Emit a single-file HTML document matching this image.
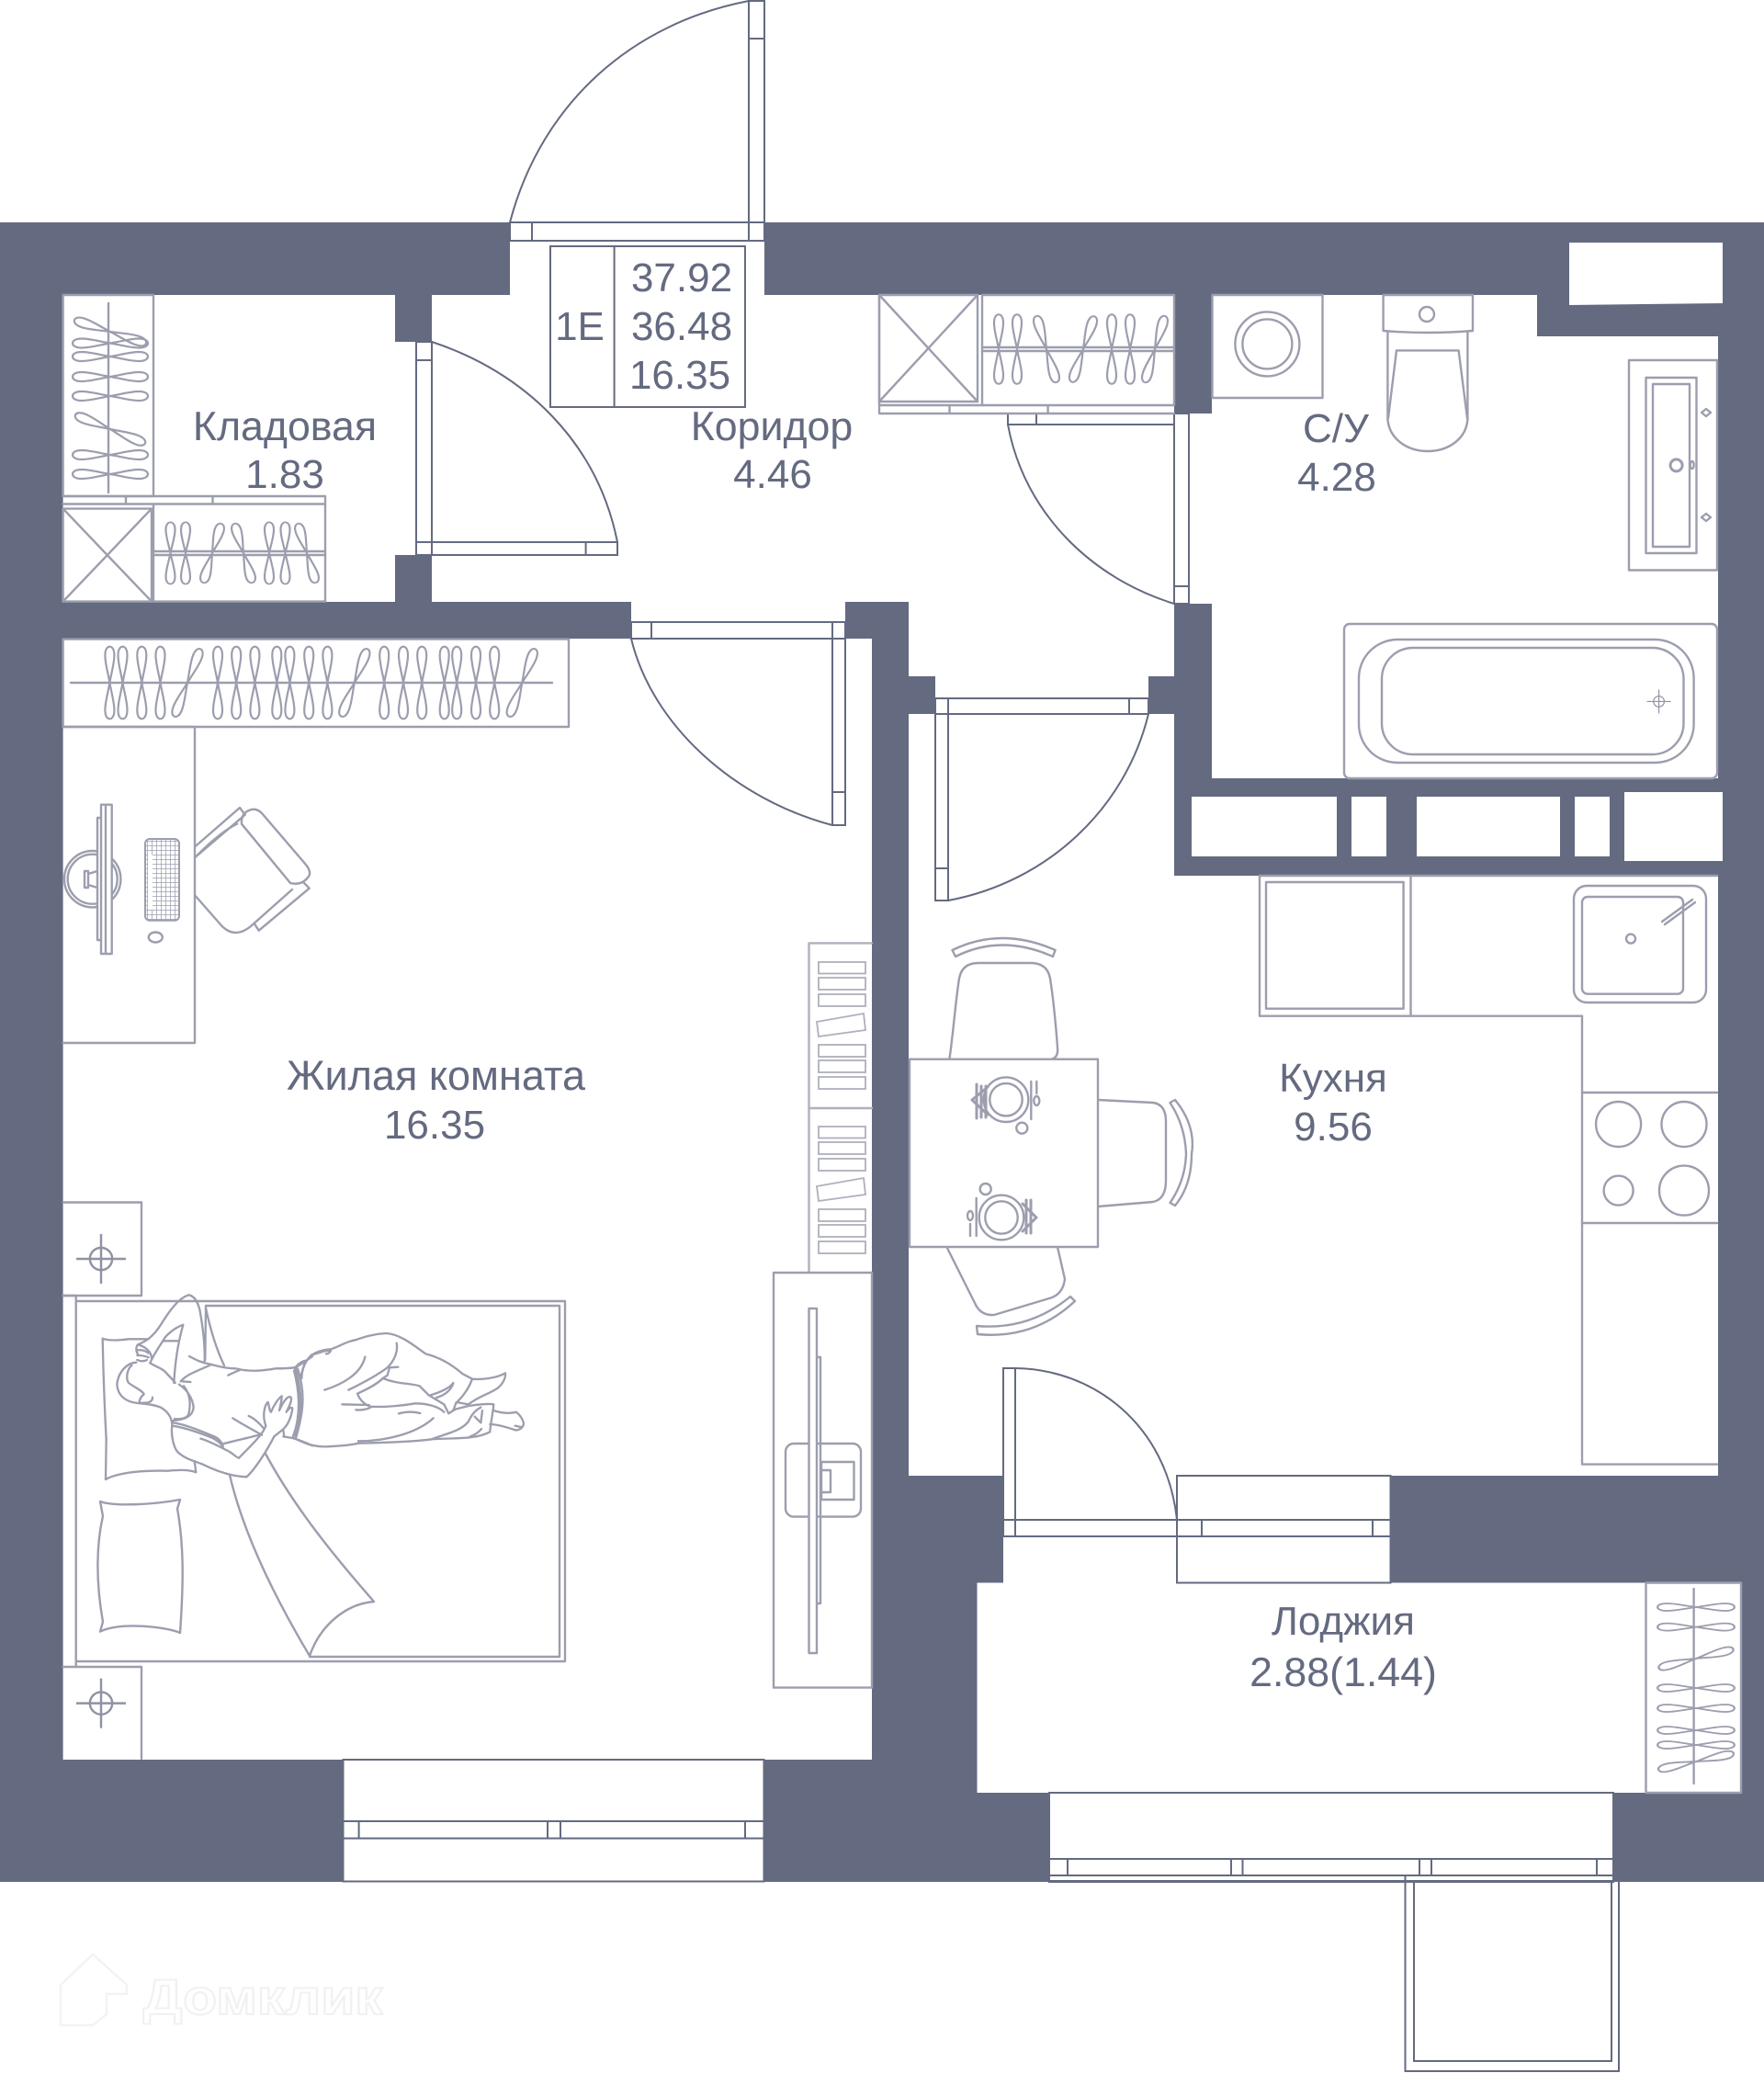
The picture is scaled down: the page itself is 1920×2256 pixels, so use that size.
<!DOCTYPE html>
<html><head><meta charset="utf-8">
<style>
html,body{margin:0;padding:0;background:#fff}
svg{display:block}
text{font-family:"Liberation Sans",sans-serif;fill:#646a80;font-size:44px;text-anchor:middle}
.n{font-size:44.7px}
.f{fill:none;stroke:#9c9eae;stroke-width:2.4;stroke-linejoin:round;stroke-linecap:round}
.w{fill:#fff;stroke:#9c9eae;stroke-width:2.4;stroke-linejoin:round}
.d{fill:none;stroke:#646a80;stroke-width:2}
.dw{fill:#fff;stroke:#646a80;stroke-width:2}
.p{fill:none;stroke:#9c9eae;stroke-width:7;stroke-linejoin:round;stroke-linecap:round}
</style></head><body>
<svg xmlns="http://www.w3.org/2000/svg" width="1920" height="2256" viewBox="0 0 1920 2256">
<defs>
<path id="h" d="M0,0C-12,-2 -22,-5 -31,-5C-39,-5 -41,-2 -41,0C-41,2 -39,5 -31,5C-22,5 -12,2 0,0C12,-2 22,-5 31,-5C39,-5 41,-2 41,0C41,2 39,5 31,5C22,5 12,2 0,0Z" fill="none" stroke="#9c9eae" stroke-width="2.2"/>
<pattern id="kb" width="5" height="5" patternUnits="userSpaceOnUse"><path d="M0,0H5M0,0V5" stroke="#9c9eae" stroke-width="1.5" fill="none"/></pattern>
<g id="bk" style="stroke:#aeb0bc;stroke-width:1.8;fill:none">
<rect x="891" y="1047" width="51" height="12.5"/><rect x="891" y="1064" width="51" height="13"/><rect x="891" y="1082" width="51" height="13"/>
<path d="M889,1112L940,1103L942,1121L891,1128Z"/>
<rect x="891" y="1137" width="51" height="13"/><rect x="891" y="1154" width="51" height="13"/><rect x="891" y="1172" width="51" height="13"/>
</g>
<g id="cross" style="stroke:#8f92a3;stroke-width:1.8;fill:none"><circle cx="0" cy="0" r="9"/><path d="M-20,0H20M0,-20V20"/></g>
</defs>

<!-- walls -->
<rect x="0" y="242" width="1920" height="1806" fill="#646a80"/>

<!-- rooms -->
<g fill="#fff">
<rect x="68.6" y="321" width="361.4" height="334"/>
<rect x="430" y="372" width="40" height="232"/>
<rect x="470" y="321" width="808" height="334"/>
<rect x="555" y="242" width="277" height="79"/>
<rect x="687" y="655" width="233" height="40"/>
<rect x="989" y="655" width="289" height="81"/>
<rect x="1018" y="736" width="232" height="41"/>
<rect x="1278" y="450" width="41" height="207"/>
<path d="M1319,321H1673V366H1870V847H1319Z"/>
<path d="M989,777H1278V953H1870V1606H989Z"/>
<rect x="68.6" y="695" width="880.4" height="1220"/>
<rect x="373.5" y="1915" width="458" height="132.5"/>
<rect x="1092" y="1606" width="189" height="116.5"/>
<rect x="1281" y="1606" width="232.5" height="116.5"/>
<rect x="1063.5" y="1722.5" width="831.5" height="228.5"/>
<rect x="1142" y="1951" width="614" height="95"/>
<path d="M1708,264H1875V330L1708,332Z"/>
<rect x="1297" y="867" width="158" height="65"/>
<rect x="1471" y="867" width="38" height="65"/>
<rect x="1542" y="867" width="156" height="65"/>
<rect x="1714" y="867" width="38" height="65"/>
<rect x="1768" y="862" width="107" height="75"/>
</g>

<!-- entrance door -->
<g class="d">
<path d="M555,242H832V262H555Z M579,242V262 M815,242V262 M815,1H832V242H815Z M815,42H832"/>
<path d="M815,1C690,25 590,110 555,242"/>
</g>
<!-- door to storeroom -->
<g class="d">
<path class="dw" d="M453,372H470V590H453Z"/>
<path class="dw" d="M453,590H672V604H453Z"/>
<path d="M453,392H470M470,590V604M637.6,590V604"/>
<path d="M470,372C570,405 650,480 672,590"/>
</g>
<!-- door to bathroom -->
<g class="d">
<path d="M1097,450H1278V462H1097Z M1128,450V462"/>
<path class="dw" d="M1278,450H1294V657H1278Z"/>
<path d="M1278,638H1294"/>
<path d="M1097,462C1115,560 1190,630 1278,657"/>
</g>
<!-- door to living -->
<g class="d">
<path d="M687,677H920V695H687Z M709,677V695 M906,677V695"/>
<path class="dw" d="M906,695H920V898H906Z"/>
<path d="M906,862H920"/>
<path d="M687,695C710,790 800,870 906,898"/>
</g>
<!-- door to kitchen -->
<g class="d">
<path d="M1018,760H1250V777H1018Z M1032,760V777 M1229,760V777"/>
<path class="dw" d="M1018,777H1032V980H1018Z"/>
<path d="M1018,945H1032"/>
<path d="M1250,777C1225,880 1140,960 1032,980"/>
</g>
<!-- kitchen to loggia -->
<g class="d">
<path d="M1092,1654H1281V1672H1092Z M1105,1654V1672"/>
<path class="dw" d="M1092,1489H1105V1654H1092Z"/>
<path d="M1105,1489C1190,1490 1270,1550 1281,1654"/>
<path d="M1281,1606H1513.5V1722.5H1281Z"/>
<path d="M1281,1654H1513.5M1281,1672H1513.5M1308,1654V1672M1494,1654V1672"/>
</g>
<!-- living window -->
<g class="d">
<rect x="373.5" y="1915" width="458" height="132.5"/>
<path d="M373.5,1982H831.5M373.5,2000.6H831.5M390.6,1982V2000.6M596,1982V2000.6M610,1982V2000.6M811,1982V2000.6"/>
</g>
<!-- loggia window -->
<g class="d">
<path d="M1142,1951H1756V2048H1142Z"/>
<path d="M1142,2023H1756M1142,2041H1756M1162,2023V2041M1340,2023V2041M1352.5,2023V2041M1545,2023V2041M1558,2023V2041M1738,2023V2041"/>
</g>
<!-- balcony door -->
<g class="d">
<path d="M1529.5,2041V2254H1762V2048"/>
<path d="M1539,2048V2243H1754V2048"/>
</g>

<!-- info table -->
<g class="d">
<rect x="599" y="268" width="212" height="175"/>
<path d="M668.6,268V443"/>
</g>

<!-- storeroom wardrobe -->
<g>
<rect class="f" x="68.6" y="321" width="98.4" height="219"/>
<path class="f" d="M118,330V536"/>
<use href="#h" transform="translate(120,361) rotate(18)"/>
<use href="#h" transform="translate(120,373.5)"/>
<use href="#h" transform="translate(120,388)"/>
<use href="#h" transform="translate(120,410)"/>
<use href="#h" transform="translate(120,431)"/>
<use href="#h" transform="translate(120,467) rotate(22)"/>
<use href="#h" transform="translate(120,495)"/>
<use href="#h" transform="translate(120,516)"/>
<path class="f" d="M68.6,540H354V654.6H167V548.5M68.6,548.5H354M137,540V548.5M231.5,540V548.5"/>
<rect class="f" x="68.6" y="553.6" width="96.4" height="101"/>
<path class="f" d="M68.6,553.6L165,654.6M165,553.6L68.6,654.6"/>
<path class="f" d="M168,600H354M168,604H354"/>
<use href="#h" transform="translate(185.5,602) rotate(90) scale(.82,1)"/>
<use href="#h" transform="translate(202,602) rotate(90) scale(.82,1)"/>
<use href="#h" transform="translate(231,602) rotate(-73) scale(.82,1)"/>
<use href="#h" transform="translate(265,602) rotate(73) scale(.82,1)"/>
<use href="#h" transform="translate(293,602) rotate(90) scale(.82,1)"/>
<use href="#h" transform="translate(310.5,602) rotate(90) scale(.82,1)"/>
<use href="#h" transform="translate(334,602) rotate(73) scale(.82,1)"/>
</g>

<!-- corridor closet -->
<g>
<rect class="f" x="957" y="321" width="107" height="116"/>
<path class="f" d="M957,321L1064,437M1064,321L957,437"/>
<path class="f" d="M1069,321H1278V441H1069Z M957,441H1278M957,450H1278M1033.5,441V450M1140.6,441V450M957,321V450"/>
<path class="f" d="M1069,378H1278M1069,382H1278"/>
<use href="#h" transform="translate(1087,380) rotate(90) scale(.92,1)"/>
<use href="#h" transform="translate(1107,380) rotate(90) scale(.92,1)"/>
<use href="#h" transform="translate(1139,380) rotate(73) scale(.92,1)"/>
<use href="#h" transform="translate(1179,380) rotate(-71) scale(.92,1)"/>
<use href="#h" transform="translate(1210,380) rotate(90) scale(.92,1)"/>
<use href="#h" transform="translate(1230,380) rotate(90) scale(.92,1)"/>
<use href="#h" transform="translate(1257,380) rotate(-73) scale(.92,1)"/>
</g>

<!-- bathroom -->
<g>
<rect class="f" x="1319.5" y="321" width="120" height="112"/>
<circle class="f" cx="1379.4" cy="374.4" r="35"/>
<circle class="f" cx="1379.4" cy="374.4" r="27"/>
<path class="f" d="M1505.6,321H1603V360Q1554,364 1505.6,360Z"/>
<circle class="f" cx="1553" cy="342" r="8"/>
<path class="f" d="M1510.4,361V456C1512,478 1532,491 1554,491C1576,491 1596,478 1597.4,456V361"/>
<path class="f" d="M1511,455L1520,381.4H1587.6L1597,455"/>
<path class="f" d="M1773,392H1869V620.5H1773Z"/>
<rect class="f" x="1791.5" y="411" width="55" height="191"/>
<rect class="f" x="1799" y="418" width="40" height="177"/>
<path class="f" d="M1852,449L1857,445L1862,449L1857,453Z M1852,563L1857,559L1862,563L1857,567Z"/>
<circle class="f" cx="1824.6" cy="506.4" r="6.5" style="stroke-width:3"/>
<ellipse class="f" cx="1841.7" cy="506" rx="2" ry="4"/>
<rect class="f" x="1463" y="679" width="406" height="168" rx="6"/>
<rect class="f" x="1479" y="696" width="364.6" height="134" rx="42"/>
<rect class="f" x="1504" y="705" width="328.5" height="116" rx="34"/>
<g transform="translate(1805.6,763.4) scale(.65)"><use href="#cross"/></g>
</g>

<!-- living wardrobe -->
<g>
<rect class="f" x="68.6" y="695.6" width="550.4" height="95.4"/>
<path class="f" d="M77,743H601"/>
<g>
<use href="#h" transform="translate(119.4,743) rotate(90) scale(.96,1)"/>
<use href="#h" transform="translate(133.5,743) rotate(90) scale(.96,1)"/>
<use href="#h" transform="translate(154.3,743) rotate(90) scale(.96,1)"/>
<use href="#h" transform="translate(174.5,743) rotate(90) scale(.96,1)"/>
<use href="#h" transform="translate(204,743) rotate(-69) scale(.96,1)"/>
<use href="#h" transform="translate(237,743) rotate(90) scale(.96,1)"/>
<use href="#h" transform="translate(257.2,743) rotate(90) scale(.96,1)"/>
<use href="#h" transform="translate(277.4,743) rotate(90) scale(.96,1)"/>
<use href="#h" transform="translate(301.3,743) rotate(90) scale(.96,1)"/>
<use href="#h" transform="translate(315.4,743) rotate(90) scale(.96,1)"/>
<use href="#h" transform="translate(336.2,743) rotate(90) scale(.96,1)"/>
<use href="#h" transform="translate(356.4,743) rotate(90) scale(.96,1)"/>
<use href="#h" transform="translate(385.8,743) rotate(-69) scale(.96,1)"/>
<use href="#h" transform="translate(418.2,743) rotate(90) scale(.96,1)"/>
<use href="#h" transform="translate(439,743) rotate(90) scale(.96,1)"/>
<use href="#h" transform="translate(459.2,743) rotate(90) scale(.96,1)"/>
<use href="#h" transform="translate(483.7,743) rotate(90) scale(.96,1)"/>
<use href="#h" transform="translate(497.2,743) rotate(90) scale(.96,1)"/>
<use href="#h" transform="translate(518,743) rotate(90) scale(.96,1)"/>
<use href="#h" transform="translate(538.2,743) rotate(90) scale(.96,1)"/>
<use href="#h" transform="translate(568.3,743) rotate(-69) scale(.96,1)"/>
</g>
</g>

<!-- desk -->
<g>
<path class="f" d="M68.6,791H212V1135H68.6"/>
<circle class="f" cx="100.7" cy="956.7" r="30.7"/>
<circle class="f" cx="100.7" cy="956.7" r="27"/>
<path class="f" d="M92,948H96V966H92Z M96,951L106,948M96,963L106,966"/>
<rect class="w" x="106" y="890" width="5" height="133"/>
<rect class="w" x="110" y="875.7" width="11.7" height="162.3"/>
<path class="f" d="M115,876V1038"/>
<rect x="158" y="913" width="37" height="88.7" rx="5" fill="url(#kb)" stroke="#9c9eae" stroke-width="2"/>
<rect x="161" y="930" width="5" height="60" fill="#fff"/>
<ellipse class="f" cx="169.3" cy="1020" rx="7.5" ry="5.5"/>
<path class="f" d="M212.7,921L261,879L266.7,886.7L212.7,932.7"/>
<path class="f" d="M212.7,975L241.7,1008Q256,1022 273,1008L318,968"/>
<path class="f" d="M258,896.7Q240,905 212.7,932.7"/>
<path class="f" d="M263,896.7Q262,885 272,881.5Q279,879 285,885L333,941Q340,950 335,955Q328,964 316,961L263,896.7Z"/>
<path class="f" d="M330,960L336.7,966.7L281.7,1012.7L276.7,1005"/>
</g>

<!-- bookcases -->
<path class="f" d="M949,1026.4H880.5V1384M880.5,1206H949" style="stroke:#aeb0bc"/>
<use href="#bk"/>
<use href="#bk" transform="translate(0,179)"/>

<!-- tv -->
<g>
<rect class="f" x="842" y="1385" width="107" height="451.6"/>
<rect class="w" x="855" y="1571" width="82" height="79.6" rx="9"/>
<path class="f" d="M894,1591H929.5V1632H894ZM894,1600H904V1624H894"/>
<rect class="w" x="880.5" y="1424" width="8.5" height="375"/>
<path class="f" d="M889,1477H893V1745H889"/>
</g>

<!-- nightstands -->
<g>
<path class="f" d="M68.6,1308.5H154V1410H68.6"/>
<path class="f" d="M68.6,1814H154V1914"/>
<use href="#cross" transform="translate(110,1370) scale(1.35)"/>
<use href="#cross" transform="translate(110,1853.6) scale(1.35)"/>
</g>

<!-- bed -->
<g>
<path class="f" d="M68.6,1410H82.7V1814"/>
<path class="f" d="M82.7,1416H615V1808H82.7"/>
<path class="f" d="M224,1421H609V1803H337"/>
<path class="f" d="M250,1605C265,1670 300,1740 337,1802M289,1582C320,1640 365,1695 407,1743C380,1745 350,1765 337,1802"/>
<path class="f" d="M109,1634C125,1640 170,1637 196,1632L193,1642C200,1680 200,1720 196,1777C180,1770 130,1765 109,1775.6L112,1765C104,1720 105,1680 112,1650Z"/>
<!-- person upper body -->
<g transform="translate(100,1400) scale(.33333)" class="p">
<path d="M45,630L47,500Q38,330 35,170Q60,180 120,172L185,172M235,178L280,178"/>
<path d="M45,630C90,605 180,600 250,602C290,598 320,598 340,607L335,570"/>
<path d="M150,190C175,180 200,165 225,125C250,85 280,40 315,28C335,30 345,50 352,75C362,130 370,190 368,245"/>
<path d="M190,250C205,215 225,190 240,165C265,138 285,130 298,125C285,170 272,240 268,315"/>
<path d="M150,190C142,200 145,215 150,220M148,208Q170,205 185,218M148,225Q170,225 185,232M148,240Q165,248 180,240M150,190C170,195 195,210 195,235"/>
<path d="M145,248C110,250 85,285 82,320C85,360 115,380 160,382C180,384 200,385 225,395C250,410 262,430 262,455"/>
<path d="M130,258C115,270 110,300 120,315C140,330 165,340 170,352C160,360 155,370 155,380M198,362C198,375 190,382 155,380"/>
<path d="M190,250C215,265 235,270 245,285C255,295 265,305 272,315M295,310L322,312"/>
<path d="M285,320C315,340 330,370 332,395C330,420 310,435 265,438M300,325C320,350 325,385 315,420C305,432 290,435 270,432"/>
<path d="M290,310C310,285 360,270 390,255C420,262 440,268 470,268C520,280 560,275 600,268C620,268 640,268 660,265C670,262 690,250 720,228"/>
<path d="M318,228C340,240 360,250 392,255M372,65L370,240M372,70Q395,180 432,258M445,290Q465,280 485,272"/>
<path d="M662,265C680,320 692,400 655,495M672,268C695,340 695,400 665,498M655,495Q690,505 720,520M680,300L695,250"/>
<path d="M265,445C300,450 340,465 400,490C420,500 428,515 428,525M262,455C300,460 345,475 395,495C410,505 420,510 425,520"/>
<path d="M480,560C530,510 560,480 568,455C555,420 565,385 575,378C580,395 580,408 585,410C595,385 610,365 620,358C620,375 615,390 612,405C625,375 640,355 650,362C655,375 640,400 635,410C645,395 655,392 655,400C650,430 640,455 620,470L595,490"/>
<path d="M262,455C258,480 265,530 285,545C310,565 335,570 360,580C400,600 450,620 505,622C530,600 570,540 595,490"/>
<path d="M355,497C385,505 420,525 450,540C465,550 475,560 480,560M425,515C460,505 510,495 545,485M460,430C490,450 530,470 555,485M512,423C530,430 550,450 560,462M625,470L628,490M655,495L625,490"/>
</g>
<!-- person legs -->
<g transform="translate(320,1440) scale(.33333)" class="p">
<path d="M5,145C15,130 30,122 42,122C55,100 80,88 120,85C150,75 170,60 200,55C230,45 260,35 300,33C350,35 400,80 430,100C470,110 510,130 550,165L582,182C610,185 660,180 690,163C692,180 680,200 665,212C640,230 600,240 570,265L530,258L520,285L505,295L490,265L440,235L410,205C380,195 340,200 290,180"/>
<path d="M55,105Q85,95 105,90L120,90Q115,100 105,100M42,122C30,140 25,160 25,180"/>
<path d="M335,65C340,90 330,120 305,145C265,175 215,200 178,218M232,110C220,160 170,195 100,218"/>
<path d="M340,143L312,145L305,170L290,180C270,200 240,215 207,230C215,250 230,265 248,272C290,275 350,270 395,262C430,262 470,270 490,290M157,265L245,267M202,283Q230,285 250,275"/>
<path d="M445,235C480,225 510,210 520,195C515,215 495,235 465,243M582,182C570,215 550,240 535,255"/>
<path d="M0,375C30,390 60,405 110,403C160,400 200,395 210,392C290,390 380,388 440,380C480,375 550,378 580,372C600,370 620,365 640,355C640,340 650,290 652,265C640,262 600,265 570,270L530,280L520,285"/>
<path d="M210,385C300,385 400,360 455,310M342,295Q380,285 412,294M445,380C500,360 550,350 570,320C580,300 590,285 610,275M575,370C590,365 605,355 612,345M590,305L610,325L615,285"/>
<path d="M652,285C680,295 710,295 725,290C740,300 750,320 750,330C745,345 730,352 720,348C690,338 660,330 640,330M722,335L745,340"/>
<path d="M5,145C25,220 30,300 5,370M0,155C20,230 20,300 0,365"/>
</g>
</g>

<!-- kitchen furniture -->
<g>
<path class="f" d="M1371,953V1105.7H1722V1593.6H1869M1535.5,953V1105.7"/>
<rect class="f" x="1378" y="960" width="149.6" height="137.7"/>
<path class="f" d="M1371,953H1869"/>
<path class="f" d="M1722,1189H1869M1722,1331H1869"/>
<circle class="f" cx="1761.6" cy="1223.5" r="24.5"/>
<circle class="f" cx="1833" cy="1223.5" r="24.5"/>
<circle class="f" cx="1761.6" cy="1295.6" r="16"/>
<circle class="f" cx="1833" cy="1295.6" r="27"/>
<rect class="f" x="1713" y="964" width="144" height="127" rx="14"/>
<rect class="f" x="1722" y="976" width="110" height="105.7" rx="6"/>
<circle class="f" cx="1775" cy="1021.6" r="5"/>
<path class="f" d="M1842,979L1809,1003M1845,982L1812,1006"/>
</g>

<!-- table & chairs -->
<g>
<path class="f" d="M1033.5,1152C1038,1120 1040,1090 1044,1065Q1047,1048 1065,1048H1122Q1140,1048 1143,1065C1147,1090 1150,1125 1151,1140Q1152,1150 1146,1152"/>
<path class="f" d="M1036.5,1034Q1090,1008 1148.6,1034L1146,1041Q1090,1016 1040,1041Z"/>
<path class="f" d="M1195,1197L1255,1200Q1269,1202 1269,1220V1285Q1269,1305 1255,1308L1195,1313"/>
<path class="f" d="M1273.5,1200L1279,1197Q1302,1225 1297,1256Q1297,1290 1279,1312L1273.5,1309Q1290,1285 1291,1256Q1290,1225 1273.5,1200Z"/>
<path class="f" d="M1030.4,1357L1061,1418Q1067,1432 1082,1431L1143.7,1412.5Q1157,1408 1159,1392L1151,1357"/>
<path class="f" d="M1063,1443Q1120,1448 1165,1411L1170,1416Q1125,1458 1064,1452Z"/>
<rect class="w" x="990" y="1152.7" width="205" height="204.3"/>
<g class="f">
<circle cx="1095" cy="1196.7" r="24.3"/><circle cx="1095" cy="1196.7" r="17.7"/>
<circle cx="1112.3" cy="1227.7" r="6"/>
<path d="M1122.3,1177V1218M1128.3,1177V1190"/><ellipse cx="1128.3" cy="1198" rx="3" ry="5"/>
<path d="M1063,1180V1217M1068,1182V1216M1073,1182V1216M1058,1197L1075,1183M1058,1197L1075,1213" style="stroke-width:3"/>
<circle cx="1090" cy="1325" r="24.3"/><circle cx="1090" cy="1325" r="17.7"/>
<circle cx="1072.7" cy="1294" r="6"/>
<path d="M1062.7,1304V1345M1056,1332V1345"/><ellipse cx="1056" cy="1323" rx="3" ry="5"/>
<path d="M1117,1306V1342M1122,1306V1342M1113,1310L1128,1325L1113,1340" style="stroke-width:3"/>
</g>
</g>

<!-- loggia wardrobe -->
<g>
<rect class="f" x="1791.5" y="1722.5" width="103.5" height="228.5"/>
<path class="f" d="M1843.6,1729V1941"/>
<use href="#h" transform="translate(1846,1749) scale(1.02,.8)"/>
<use href="#h" transform="translate(1846,1770.6) scale(1.02,.8)"/>
<use href="#h" transform="translate(1846,1805) rotate(-14) scale(1.02,.85)"/>
<use href="#h" transform="translate(1846,1837) scale(1.02,.8)"/>
<use href="#h" transform="translate(1846,1859) scale(1.02,.8)"/>
<use href="#h" transform="translate(1846,1883) scale(1.02,.8)"/>
<use href="#h" transform="translate(1846,1899) scale(1.02,.8)"/>
<use href="#h" transform="translate(1846,1917) rotate(-12) scale(1.02,.85)"/>
</g>

<!-- labels -->
<text x="631" y="370">1E</text>
<text x="742" y="317">37.92</text>
<text x="742" y="370">36.48</text>
<text x="740" y="423">16.35</text>
<text class="n" x="310" y="479">Кладовая</text>
<text x="310" y="531">1.83</text>
<text class="n" x="840" y="479">Коридор</text>
<text x="841" y="531">4.46</text>
<text x="1454" y="481">С/У</text>
<text x="1455" y="534">4.28</text>
<text class="n" x="474.5" y="1186" style="font-size:45px">Жилая комната</text>
<text x="473" y="1239">16.35</text>
<text x="1451" y="1188">Кухня</text>
<text x="1451" y="1241">9.56</text>
<text x="1462" y="1779">Лоджия</text>
<text class="n" x="1462" y="1835">2.88(1.44)</text>

<!-- watermark -->
<g style="fill:none;stroke:#f3f3f5;stroke-width:2.5">
<path d="M66,2204V2160L101,2127L138,2160V2170H116V2192L101,2204ZM116,2170V2192"/>
</g>
<text x="286" y="2192" style="font-size:54px;font-weight:bold;fill:#fff;stroke:#f1f1f3;stroke-width:2" textLength="261" lengthAdjust="spacingAndGlyphs">Домклик</text>
</svg>
</body></html>
